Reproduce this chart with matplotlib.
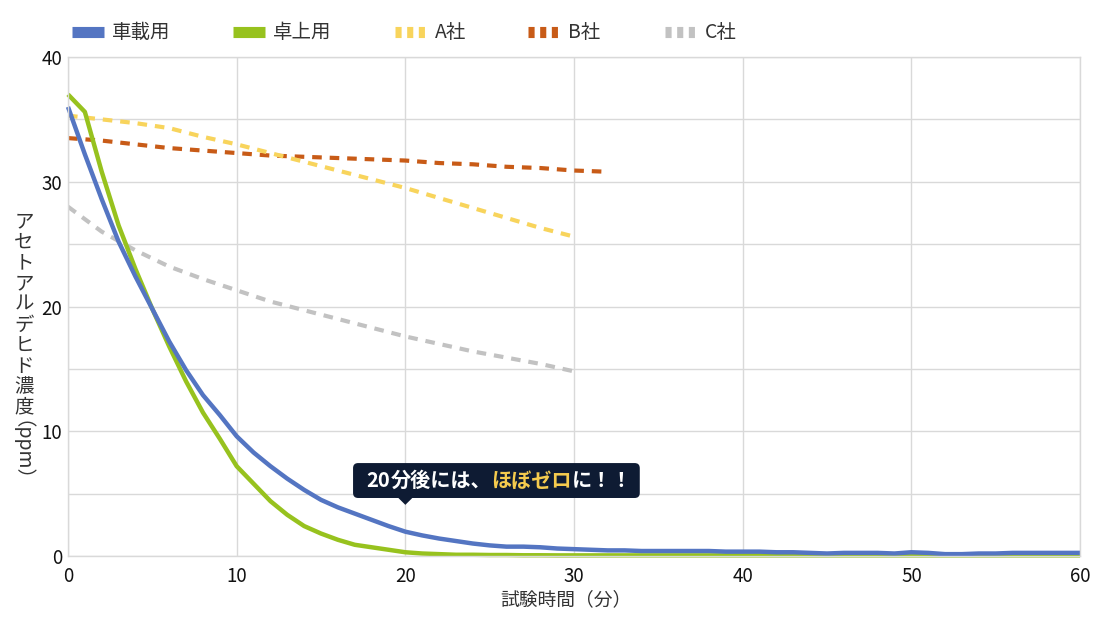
import matplotlib
matplotlib.use("Agg")
import matplotlib.pyplot as plt
from matplotlib.lines import Line2D
from matplotlib.patches import Polygon, FancyBboxPatch

plt.rcParams['font.family'] = ['Noto Sans CJK JP', 'DejaVu Sans']

# ---------------- data ----------------
minutes = list(range(0, 61))
onboard = [36.0, 32.2, 28.6, 25.2, 22.4, 19.8, 17.2, 14.9, 12.9, 11.3,
           9.6, 8.3, 7.2, 6.2, 5.3, 4.5, 3.9, 3.4, 2.9, 2.4,
           1.95, 1.65, 1.4, 1.2, 1.0, 0.85, 0.75, 0.75, 0.7, 0.6,
           0.55, 0.5, 0.45, 0.45, 0.4, 0.4, 0.4, 0.4, 0.4, 0.35,
           0.35, 0.35, 0.3, 0.3, 0.25, 0.2, 0.25, 0.25, 0.25, 0.2,
           0.3, 0.25, 0.15, 0.15, 0.2, 0.2, 0.25, 0.25, 0.25, 0.25, 0.25]
desktop = [37.0, 35.6, 30.8, 26.5, 23.0, 19.8, 16.8, 14.0, 11.5, 9.4,
           7.2, 5.8, 4.4, 3.3, 2.4, 1.8, 1.3, 0.9, 0.7, 0.5,
           0.3, 0.2, 0.15, 0.1, 0.1, 0.08, 0.08, 0.06, 0.06, 0.05,
           0.05, 0.05, 0.05, 0.05, 0.05, 0.05, 0.05, 0.05, 0.05, 0.05,
           0.05, 0.05, 0.05, 0.05, 0.05, 0.05, 0.05, 0.05, 0.05, 0.05,
           0.05, 0.05, 0.05, 0.05, 0.05, 0.05, 0.05, 0.05, 0.05, 0.05, 0.05]
comp_x = [0, 2, 4, 6, 8, 10, 12, 14, 16, 18, 20, 22, 24, 26, 28, 30]
comp_a = [35.3, 35.0, 34.7, 34.3, 33.6, 33.0, 32.3, 31.6, 30.9, 30.2,
          29.5, 28.7, 27.9, 27.1, 26.3, 25.6]
comp_b_x = [0, 2, 4, 6, 8, 10, 12, 14, 16, 18, 20, 22, 24, 26, 28, 30, 32]
comp_b = [33.5, 33.3, 33.0, 32.7, 32.5, 32.3, 32.1, 32.0, 31.9, 31.8,
          31.7, 31.5, 31.4, 31.2, 31.1, 30.9, 30.8]
comp_c_x = [0, 2, 4, 6, 8, 10, 12, 14, 16, 18, 20, 22, 24, 26, 28, 30]
comp_c = [28.0, 26.0, 24.5, 23.2, 22.2, 21.3, 20.4, 19.7, 19.0, 18.3,
          17.6, 17.0, 16.4, 15.9, 15.4, 14.8]

labels = ['車載用', '卓上用', 'A社', 'B社', 'C社']
colors = ['#5475C2', '#97C21E', '#F8D45C', '#C85B17', '#C2C2C2']
x_ticks = [0, 10, 20, 30, 40, 50, 60]
y_ticks = [0, 10, 20, 30, 40]
grid_y = [0, 5, 10, 15, 20, 25, 30, 35, 40]
ylabel_chars = 'アセトアルデヒド濃度'
ylabel_unit = '（ppm）'
xlabel = '試験時間（分）'
note_head = '20'
note_mid = '分後には、'
note_hl = 'ほぼゼロ'
note_tail = 'に！！'
note_x = 20

# ---------------- figure ----------------
W, H = 1100, 631
fig = plt.figure(figsize=(11, 6.31), dpi=100)
ax = fig.add_axes([68 / W, 75 / H, 1012 / W, 499 / H])
ax.set_xlim(0, 60)
ax.set_ylim(0, 40)

gridc = '#D9D9D9'
ax.set_xticks(x_ticks)
ax.set_yticks(grid_y)
ax.set_yticklabels([str(v) if v in y_ticks else '' for v in grid_y])
ax.grid(True, color=gridc, lw=1)
ax.set_axisbelow(True)
for s in ax.spines.values():
    s.set_color(gridc)
    s.set_linewidth(1)
ax.tick_params(length=0, labelsize=13.5, labelcolor='#111111')
ax.tick_params(axis='x', pad=7)
ax.tick_params(axis='y', pad=4)

dash_kw = dict(lw=3, dashes=(2.3, 1.9), dash_capstyle='butt')
ax.plot(comp_c_x, comp_c, color=colors[4], **dash_kw)
ax.plot(comp_b_x, comp_b, color=colors[3], **dash_kw)
ax.plot(comp_x, comp_a, color=colors[2], **dash_kw)
ax.plot(minutes, desktop, color=colors[1], lw=3.2, solid_capstyle='butt', clip_on=False)
ax.plot(minutes, onboard, color=colors[0], lw=3.2, solid_capstyle='butt', clip_on=False)

# legend (one entry per legend so each can sit at its own place)
handles = [
    Line2D([], [], color=colors[0], lw=8, solid_capstyle='butt'),
    Line2D([], [], color=colors[1], lw=8, solid_capstyle='butt'),
    Line2D([], [], color=colors[2], lw=8, dashes=(0.55, 0.5), dash_capstyle='butt'),
    Line2D([], [], color=colors[3], lw=8, dashes=(0.55, 0.5), dash_capstyle='butt'),
    Line2D([], [], color=colors[4], lw=8, dashes=(0.55, 0.5), dash_capstyle='butt'),
]
legend_x = [72, 233, 395, 528, 665]
for h, lab, lx in zip(handles, labels, legend_x):
    lg = fig.legend([h], [lab], loc='center left',
                    bbox_to_anchor=(lx / W, 1 - 33 / H), frameon=False,
                    fontsize=14, handlelength=1.65, handletextpad=0.42,
                    borderaxespad=0, borderpad=0)
    for t in lg.get_texts():
        t.set_color('#333333')

# axis labels
fig.text(566 / W, 1 - 600 / H, xlabel, ha='center', va='center',
         fontsize=13.5, color='#333333')
for i, ch in enumerate(ylabel_chars):
    fig.text(24 / W, 1 - (222 + i * 20.6) / H, ch, ha='center', va='center',
             fontsize=14, color='#333333')
fig.text(11 / W, 1 - 461 / H, ylabel_unit, ha='center', va='center',
         rotation=270, fontsize=14, color='#333333', rotation_mode='anchor')

# annotation callout
box_fc = '#0E1B33'
ty = 6.05
aspect = (1012 / 60) / (499 / 40)
ax.add_patch(FancyBboxPatch((16.9, 4.65), 17.0, 2.8,
                            boxstyle='round,pad=0,rounding_size=0.3',
                            mutation_aspect=aspect, fc=box_fc, ec='none', zorder=5))
ax.add_patch(Polygon([(note_x - 0.45, 4.7), (note_x + 0.45, 4.7), (note_x, 4.1)],
                     closed=True, fc=box_fc, ec='none', zorder=5))
p1 = ax.text(17.7, ty, note_head, fontsize=14.5, fontweight='bold', color='white',
             ha='left', va='center', zorder=6)
p2 = ax.annotate(note_mid, xy=(1, 0), xycoords=p1, fontsize=14.5, fontweight='bold',
                 color='white', ha='left', va='bottom', zorder=6)
p3 = ax.annotate(note_hl, xy=(1, 0), xycoords=p2, fontsize=14.5, fontweight='bold',
                 color='#F5CB4E', ha='left', va='bottom', zorder=6)
p4 = ax.annotate(note_tail, xy=(1, 0), xycoords=p3, fontsize=14.5, fontweight='bold',
                 color='white', ha='left', va='bottom', zorder=6)

fig.savefig('out.png', dpi=100)
